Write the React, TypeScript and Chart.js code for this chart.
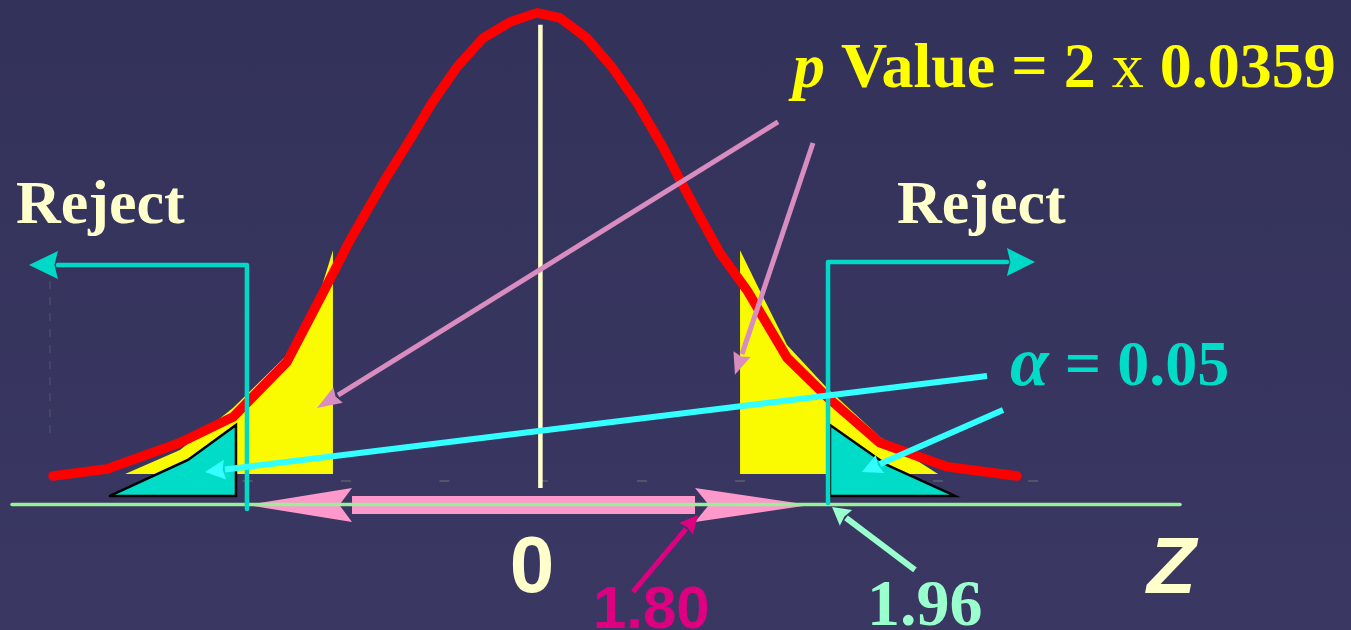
import React, { useEffect, useRef } from "react";
import { Chart, registerables } from "chart.js";

Chart.register(...registerables);

// Units: x = z (standard normal), y = height relative to the curve peak
const curveZ = [-3.247, -2.887, -2.401, -2.048, -1.688, -1.455, -1.268, -1.049, -0.869, -0.722, -0.556, -0.382, -0.203, -0.023, 0.131, 0.31, 0.477, 0.644, 0.817, 0.93, 1.063, 1.196, 1.376, 1.643, 1.909, 2.262, 2.709, 3.175];
const curveH = [0, 0.015, 0.072, 0.128, 0.248, 0.394, 0.513, 0.637, 0.731, 0.811, 0.889, 0.952, 0.987, 1.007, 0.996, 0.952, 0.889, 0.811, 0.715, 0.644, 0.563, 0.485, 0.404, 0.257, 0.172, 0.072, 0.02, 0];

// p-value tail areas (yellow)
const pTailLeftZ = [-2.767, -2.401, -2.048, -1.688, -1.468, -1.382, -1.382];
const pTailLeftH = [0.004, 0.0565, 0.148, 0.263, 0.4, 0.491, 0.004];
const pTailRightZ = [1.33, 1.443, 1.643, 1.909, 2.262, 2.649, 1.33];
const pTailRightH = [0.491, 0.415, 0.285, 0.191, 0.0848, 0.004, 0.004];

// alpha rejection areas (cyan triangles)
const alphaLeftZ = [-2.868, -2.348, -2.028, -2.028, -2.868];
const alphaLeftH = [-0.0435, 0.0348, 0.111, -0.0435, -0.0435];
const alphaRightZ = [1.929, 2.308, 2.762, 1.929, 1.929];
const alphaRightH = [0.111, 0.024, -0.0435, -0.0435, 0.111];

// faint axis remnants
const tickZ = [-1.951, -1.295, -0.639, 0.017, 0.677, 1.33, 1.983, 2.649, 3.282];
const tickH = [-0.0109, -0.0109, -0.0109, -0.0109, -0.0109, -0.0109, -0.0109, -0.0109, -0.0109];
const oldAxisZ = [-3.267, -3.267];
const oldAxisH = [0.0935, 0.426];

// centre line, z axis line
const centerZ = [0, 0];
const centerH = [-0.026, 0.981];
const zAxisZ = [-3.52, 4.261];
const zAxisH = [-0.062, -0.062];

// interval between critical values (pink double arrow): tip, base, base, tip
const intervalZ = [-1.955, -1.255, 1.03, 1.796];
const intervalH = [-0.063, -0.063, -0.063, -0.063];

// reject brackets: foot, corner, head base, head tip
const rejectLeftZ = [-1.955, -1.955, -3.214, -3.407];
const rejectLeftH = [-0.0718, 0.459, 0.459, 0.459];
const rejectRightZ = [1.916, 1.916, 3.108, 3.295];
const rejectRightH = [-0.0587, 0.4654, 0.4654, 0.4654];

// callout arrows: start, head base, head tip
const pArrowAZ = [1.583, -1.348, -1.488];
const pArrowAH = [0.77, 0.176, 0.148];
const pArrowBZ = [1.816, 1.343, 1.296];
const pArrowBH = [0.724, 0.265, 0.22];
const aArrowAZ = [2.975, -2.101, -2.234];
const aArrowAH = [0.2175, 0.0139, 0.0087];
const aArrowBZ = [3.082, 2.262, 2.142];
const aArrowBH = [0.1435, 0.0261, 0.0087];
const z180ArrowZ = [0.617, 0.97, 1.05];
const z180ArrowH = [-0.2523, -0.1153, -0.0848];
const z196ArrowZ = [2.495, 2.036, 1.943];
const z196ArrowH = [-0.2044, -0.0913, -0.0674];

// texts
const rejectLabel = "Reject";
const pValueParts = ["p", " Value = 2 ", "x", " 0.0359"];
const alphaParts = ["α", " = 0.05"];
const zeroLabel = "0";
const zLabel = "Z";
const stat180 = "1.80";
const crit196 = "1.96";

const SERIF = '"Liberation Serif", "Times New Roman", serif';
const SANS = '"Liberation Sans", Arial, sans-serif';

const zip = (xs: number[], ys: number[]) => xs.map((x, i) => ({ x, y: ys[i] }));

type Part = { t: string; f: string; c: string };
type Note = { x: number; y: number; align: "left" | "center"; parts: Part[] };

const notes: Note[] = [
  { x: -3.493, y: 0.55, align: "left", parts: [{ t: rejectLabel, f: `bold 62px ${SERIF}`, c: "#ffffcc" }] },
  { x: 2.376, y: 0.55, align: "left", parts: [{ t: rejectLabel, f: `bold 62px ${SERIF}`, c: "#ffffcc" }] },
  {
    x: 1.683, y: 0.846, align: "left",
    parts: [
      { t: pValueParts[0], f: `italic bold 64px ${SERIF}`, c: "#ffff00" },
      { t: pValueParts[1], f: `bold 64px ${SERIF}`, c: "#ffff00" },
      { t: pValueParts[2], f: `64px ${SERIF}`, c: "#ffff00" },
      { t: pValueParts[3], f: `bold 64px ${SERIF}`, c: "#ffff00" },
    ],
  },
  {
    x: 3.128, y: 0.198, align: "left",
    parts: [
      { t: alphaParts[0], f: `italic bold 70px ${SERIF}`, c: "#00dcc8" },
      { t: alphaParts[1], f: `bold 64px ${SERIF}`, c: "#00dcc8" },
    ],
  },
  { x: -0.056, y: -0.2523, align: "center", parts: [{ t: zeroLabel, f: `bold 80px ${SANS}`, c: "#ffffcc" }] },
  { x: 4.041, y: -0.2544, align: "left", parts: [{ t: zLabel, f: `italic bold 80px ${SANS}`, c: "#ffffcc" }] },
  { x: 0.35, y: -0.3305, align: "left", parts: [{ t: stat180, f: `bold 60px ${SANS}`, c: "#dd0080" }] },
  { x: 2.176, y: -0.324, align: "left", parts: [{ t: crit196, f: `bold 66px ${SERIF}`, c: "#99ffcc" }] },
];

const diagramPlugin = {
  id: "diagram",
  beforeDatasetDraw(chart: any, args: any) {
    const ds = chart.data.datasets[args.index];
    if (!ds.polyFill) return;
    const pts = args.meta.data;
    const ctx = chart.ctx;
    ctx.save();
    ctx.beginPath();
    pts.forEach((p: any, i: number) => (i ? ctx.lineTo(p.x, p.y) : ctx.moveTo(p.x, p.y)));
    ctx.closePath();
    ctx.fillStyle = ds.polyFill;
    ctx.fill();
    ctx.restore();
  },
  afterDatasetDraw(chart: any, args: any) {
    const ds = chart.data.datasets[args.index];
    if (!ds.heads) return;
    const pts = args.meta.data;
    const ctx = chart.ctx;
    ctx.save();
    ctx.fillStyle = ds.borderColor;
    for (const h of ds.heads) {
      const b = pts[h.base];
      const t = pts[h.tip];
      const dx = t.x - b.x;
      const dy = t.y - b.y;
      const len = Math.hypot(dx, dy) || 1;
      const ux = dx / len;
      const uy = dy / len;
      const nx = -uy;
      const ny = ux;
      const notch = len * 0.12;
      ctx.beginPath();
      ctx.moveTo(t.x, t.y);
      ctx.lineTo(b.x + nx * h.w, b.y + ny * h.w);
      ctx.lineTo(b.x + ux * notch, b.y + uy * notch);
      ctx.lineTo(b.x - nx * h.w, b.y - ny * h.w);
      ctx.closePath();
      ctx.fill();
    }
    ctx.restore();
  },
  afterDatasetsDraw(chart: any) {
    const ctx = chart.ctx;
    const xs = chart.scales.x;
    const ys = chart.scales.y;
    ctx.save();
    ctx.textBaseline = "alphabetic";
    ctx.textAlign = "left";
    for (const n of notes) {
      let total = 0;
      for (const p of n.parts) {
        ctx.font = p.f;
        total += ctx.measureText(p.t).width;
      }
      let x = xs.getPixelForValue(n.x);
      const y = ys.getPixelForValue(n.y);
      if (n.align === "center") x -= total / 2;
      for (const p of n.parts) {
        ctx.font = p.f;
        ctx.fillStyle = p.c;
        ctx.fillText(p.t, x, y);
        x += ctx.measureText(p.t).width;
      }
    }
    ctx.restore();
  },
};

const hideSegs = (hidden: number[]) => ({
  borderColor: (c: any) => (hidden.includes(c.p0DataIndex) ? "rgba(0,0,0,0)" : undefined),
});

function buildDatasets() {
  const line = (data: any[], color: string, width: number, extra: any = {}) => ({
    data,
    showLine: true,
    borderColor: color,
    borderWidth: width,
    pointRadius: 0,
    pointHoverRadius: 0,
    tension: 0,
    fill: false,
    borderCapStyle: "round",
    borderJoinStyle: "round",
    ...extra,
  });
  const list: any[] = [
    line(zip(oldAxisZ, oldAxisH), "#45456a", 2, { borderDash: [8, 8], borderCapStyle: "butt" }),
    {
      data: zip(tickZ, tickH),
      showLine: false,
      pointStyle: "line",
      pointRadius: 5,
      pointHoverRadius: 5,
      pointBorderWidth: 2,
      pointBorderColor: "#55556a",
      borderColor: "#55556a",
    },
    line(zip(pTailLeftZ, pTailLeftH), "rgba(0,0,0,0)", 0, { polyFill: "#fafa00" }),
    line(zip(pTailRightZ, pTailRightH), "rgba(0,0,0,0)", 0, { polyFill: "#fafa00" }),
    line(zip(alphaLeftZ, alphaLeftH), "#000000", 2.5, { polyFill: "#00dcc8", borderJoinStyle: "miter" }),
    line(zip(alphaRightZ, alphaRightH), "#000000", 2.5, { polyFill: "#00dcc8", borderJoinStyle: "miter" }),
    line(zip(curveZ, curveH), "#ff0000", 9.5),
    line(zip(centerZ, centerH), "#ffffcc", 4.5, { borderCapStyle: "butt" }),
    line(zip(intervalZ, intervalH), "#ff99cc", 18, {
      borderCapStyle: "butt",
      segment: hideSegs([0, 2]),
      heads: [
        { base: 1, tip: 0, w: 17 },
        { base: 2, tip: 3, w: 17 },
      ],
    }),
    line(zip(zAxisZ, zAxisH), "#99f099", 3.5),
    line(zip(rejectLeftZ, rejectLeftH), "#00d8c8", 4.5, { segment: hideSegs([2]), heads: [{ base: 2, tip: 3, w: 14 }] }),
    line(zip(rejectRightZ, rejectRightH), "#00d8c8", 4.5, { segment: hideSegs([2]), heads: [{ base: 2, tip: 3, w: 14 }] }),
    line(zip(pArrowAZ, pArrowAH), "#d88cbf", 5, { borderCapStyle: "butt", segment: hideSegs([1]), heads: [{ base: 1, tip: 2, w: 9 }] }),
    line(zip(pArrowBZ, pArrowBH), "#d88cbf", 5, { borderCapStyle: "butt", segment: hideSegs([1]), heads: [{ base: 1, tip: 2, w: 9 }] }),
    line(zip(aArrowAZ, aArrowAH), "#33ffff", 6, { borderCapStyle: "butt", segment: hideSegs([1]), heads: [{ base: 1, tip: 2, w: 10 }] }),
    line(zip(aArrowBZ, aArrowBH), "#33ffff", 6, { borderCapStyle: "butt", segment: hideSegs([1]), heads: [{ base: 1, tip: 2, w: 10 }] }),
    line(zip(z180ArrowZ, z180ArrowH), "#dd0080", 5, { borderCapStyle: "butt", segment: hideSegs([1]), heads: [{ base: 1, tip: 2, w: 9 }] }),
    line(zip(z196ArrowZ, z196ArrowH), "#99ffcc", 6, { borderCapStyle: "butt", segment: hideSegs([1]), heads: [{ base: 1, tip: 2, w: 10 }] }),
  ];
  const n = list.length;
  return list.map((d, i) => ({ ...d, order: n - i }));
}

export default function App() {
  const ref = useRef<HTMLCanvasElement | null>(null);
  useEffect(() => {
    if (!ref.current) return;
    const chart = new Chart(ref.current, {
      type: "scatter",
      data: { datasets: buildDatasets() as any },
      options: {
        animation: false,
        responsive: true,
        maintainAspectRatio: false,
        devicePixelRatio: 1,
        layout: { padding: 0, autoPadding: false },
        events: [],
        plugins: { legend: { display: false }, tooltip: { enabled: false }, title: { display: false } },
        scales: {
          x: { type: "linear", min: -3.6, max: 5.4, display: false },
          y: { type: "linear", min: -0.335, max: 1.035, display: false },
        },
      } as any,
      plugins: [diagramPlugin as any],
    });
    return () => chart.destroy();
  }, []);
  return (
    <div
      style={{
        position: "fixed",
        left: 0,
        top: 0,
        width: 1351,
        height: 630,
        background: "linear-gradient(#33325a, #3a3863)",
      }}
    >
      <canvas ref={ref} />
    </div>
  );
}
